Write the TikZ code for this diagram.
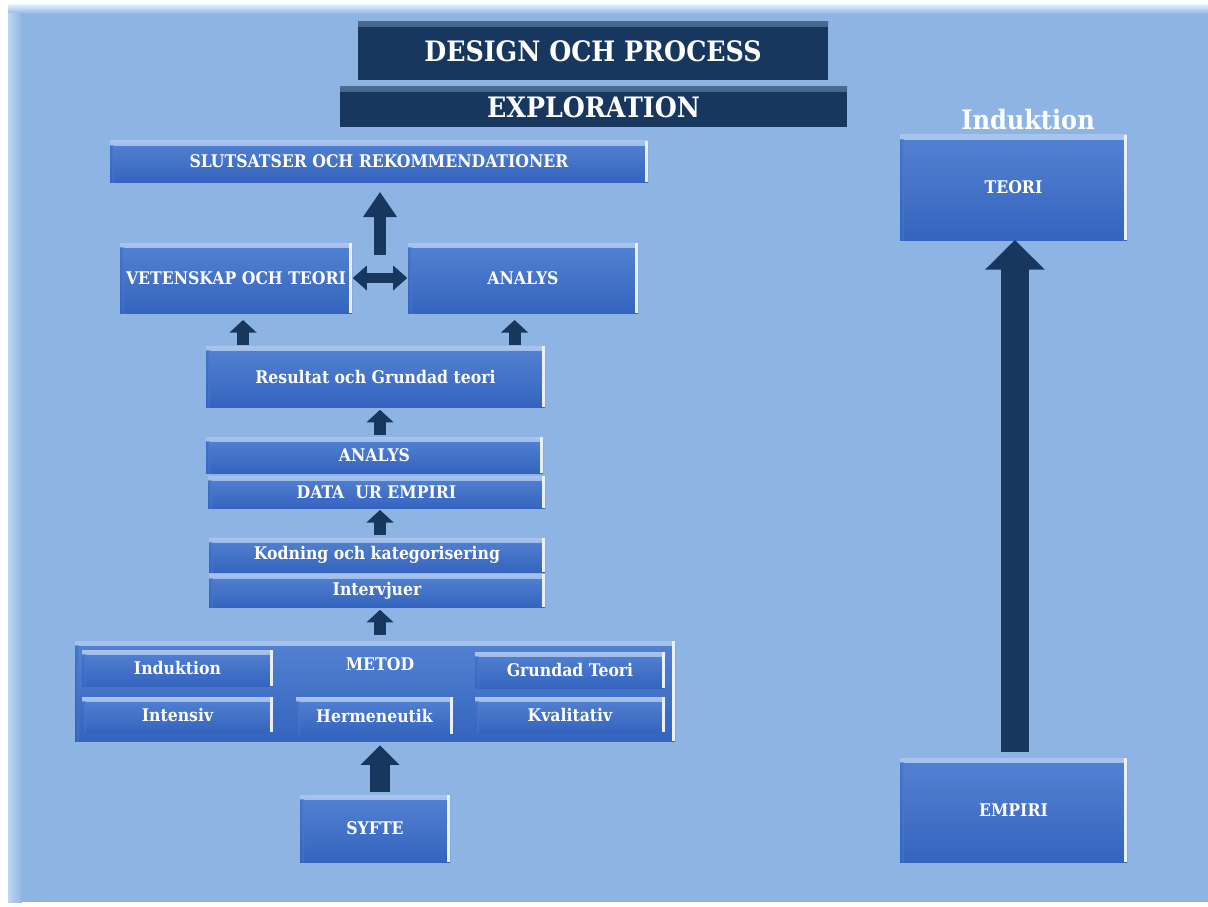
\documentclass[tikz,border=0pt]{standalone}
\usepackage{fontspec}
\setmainfont{DejaVu Serif Condensed}
\usetikzlibrary{arrows.meta}

\definecolor{bgblue}{HTML}{8EB4E3}
\definecolor{bgedge}{HTML}{DDF0FA}
\definecolor{navy}{HTML}{17375E}
\definecolor{navyedge}{HTML}{4A6A92}
\definecolor{boxtop}{HTML}{5482D2}
\definecolor{boxbot}{HTML}{3464BE}
\definecolor{boxedge}{HTML}{A8C4EE}

\tikzset{
  sz/.style 2 args={minimum width=#1*0.025cm, minimum height=#2*0.025cm},
  glassbox/.style={top color=boxtop, bottom color=boxbot, text=white,
    font=\bfseries\fontsize{12.4}{14}\selectfont, inner sep=0pt, outer sep=0pt, align=center,
    path picture={
      \shade[top color=boxedge, bottom color=boxtop] (path picture bounding box.north west)
        rectangle ([yshift=-3.5pt]path picture bounding box.north east);
      \fill[white!75!boxedge] ([xshift=-2.2pt]path picture bounding box.north east)
        rectangle (path picture bounding box.south east);
      \shade[left color=boxbot, right color=boxtop, opacity=0.5] (path picture bounding box.south west)
        rectangle ([xshift=3pt,yshift=-3.5pt]path picture bounding box.north west);
    }},
  titlebox/.style={fill=navy, text=white, inner sep=0pt, outer sep=0pt,
    font=\bfseries\fontsize{20}{23}\selectfont,
    path picture={
      \shade[top color=navyedge, bottom color=navy] (path picture bounding box.north west)
        rectangle ([yshift=-3.5pt]path picture bounding box.north east);
    }},
  smallarrow/.style={draw=navy, line width=8.5pt, -{Triangle[width=19pt,length=9pt]}},
  midarrow/.style={draw=navy, line width=8.5pt, -{Triangle[width=23pt,length=18pt]}},
  dblarrow/.style={draw=navy, line width=7pt, {Triangle[width=17pt,length=10pt]}-{Triangle[width=17pt,length=10pt]}},
  bigarrow/.style={draw=navy, line width=14pt, -{Triangle[width=27pt,length=14pt]}},
  hugearrow/.style={draw=navy, line width=20pt, -{Triangle[width=41pt,length=21pt]}},
}

\begin{document}
\begin{tikzpicture}[x=0.025cm, y=-0.025cm]
  \useasboundingbox (0,0) rectangle (1208,906);

  % background
  \fill[white] (0,0) rectangle (1208,906);
  \fill[bgblue] (8,5) rectangle (1208,902);
  \shade[top color=bgedge, bottom color=bgblue] (8,5) rectangle (1208,14);
  \shade[left color=bgedge!60!bgblue, right color=bgblue] (8,14) rectangle (22,902);

  % titles
  \node[titlebox, sz={470}{58}] (title) at (593,51) {DESIGN OCH PROCESS};
  \node[titlebox, sz={507}{40}] (explo) at (593.5,107) {EXPLORATION};

  % left column
  \node[glassbox, sz={538}{41}] (slut) at (379,161.5) {SLUTSATSER OCH REKOMMENDATIONER};
  \node[glassbox, sz={232}{70}] (vet) at (236,278) {VETENSKAP OCH TEORI};
  \node[glassbox, sz={230}{70}] (analys) at (523,278) {ANALYS};
  \node[glassbox, sz={339}{61}] (result) at (375.5,376.5) {Resultat och Grundad teori};
  \node[glassbox, sz={337}{36}] (analys2) at (374.5,455) {ANALYS};
  \node[glassbox, sz={337}{32}] (data) at (376.5,492) {DATA\ \ UR EMPIRI};
  \node[glassbox, sz={336}{34}] (kodning) at (377,555) {Kodning och kategorisering};
  \node[glassbox, sz={336}{33}] (interv) at (377,590.5) {Intervjuer};

  \node[glassbox, sz={600}{100}] (metod) at (375,691) {};
  \node[text=white, font=\bfseries\fontsize{12.4}{14}\selectfont] (metodtxt) at (380,664) {METOD};
  \node[glassbox, sz={191}{36}] (ind) at (177.5,668) {Induktion};
  \node[glassbox, sz={190}{36}] (grund) at (570,670) {Grundad Teori};
  \node[glassbox, sz={191}{35}] (intens) at (177.5,714.5) {Intensiv};
  \node[glassbox, sz={157}{37}] (herm) at (374.5,715.5) {Hermeneutik};
  \node[glassbox, sz={190}{35}] (kval) at (570,714.5) {Kvalitativ};

  \node[glassbox, sz={150}{67}] (syfte) at (375,828.5) {SYFTE};

  % right column
  \node[text=white, font=\bfseries\fontsize{19}{22}\selectfont] (indtitle) at (1028,120) {Induktion};
  \node[glassbox, sz={227}{105}] (teori) at (1013.5,187.5) {TEORI};
  \node[glassbox, sz={227}{104}] (empiri) at (1013.5,810) {EMPIRI};

  % arrows
  \coordinate (mid) at (380,255);
  \draw[midarrow, shorten >=7pt] (mid) -- (mid |- slut.south);
  \draw[dblarrow, shorten <=0.5pt, shorten >=0.5pt] (vet.east) -- (analys.west);
  \draw[smallarrow, shorten <=0.7pt, shorten >=5pt] ([xshift=5pt]vet.south |- result.north) -- ([xshift=5pt]vet.south);
  \draw[smallarrow, shorten <=0.7pt, shorten >=5pt] ([xshift=-6pt]analys.south |- result.north) -- ([xshift=-6pt]analys.south);
  \draw[smallarrow, shorten <=1.4pt, shorten >=2pt] (mid |- analys2.north) -- (mid |- result.south);
  \draw[smallarrow, shorten <=2pt, shorten >=1.4pt] (mid |- kodning.north) -- (mid |- data.south);
  \draw[smallarrow, shorten <=4pt, shorten >=2pt] (mid |- metod.north) -- (mid |- interv.south);
  \draw[bigarrow, shorten <=2pt, shorten >=3pt] (mid |- syfte.north) -- (mid |- metod.south);
  \draw[hugearrow, shorten <=4pt, shorten >=0pt] ([xshift=1pt]empiri.north) -- ([xshift=1pt]teori.south);
\end{tikzpicture}
\end{document}
